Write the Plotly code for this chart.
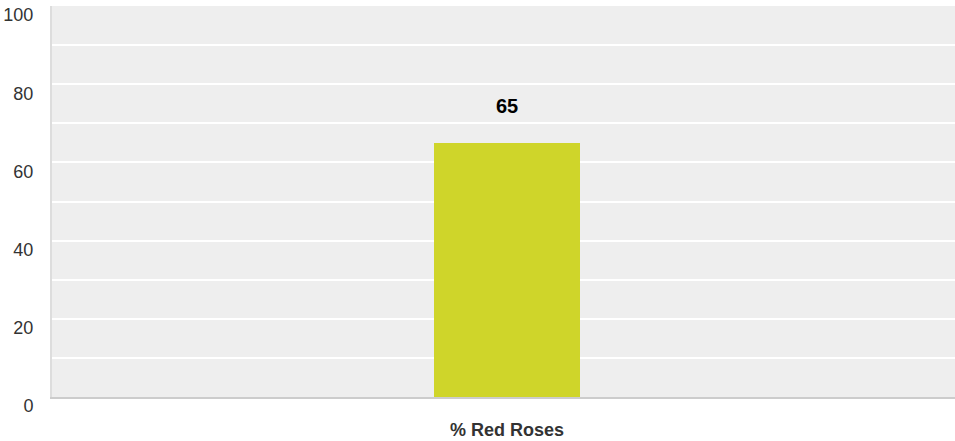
import plotly.graph_objects as go

categories = ["% Red Roses"]
values = [65]
value_labels = ["65"]
y_ticks = [0, 20, 40, 60, 80, 100]

FONT = "Liberation Sans, Arial, sans-serif"

fig = go.Figure()
fig.add_trace(go.Bar(
    x=categories, y=values,
    marker=dict(color="#cfd52a", line=dict(width=0)),
    width=0.162, hoverinfo="skip",
))

for c, v, t in zip(categories, values, value_labels):
    fig.add_annotation(
        x=c, y=v, text="<b>%s</b>" % t, showarrow=False,
        yanchor="middle", yshift=37,
        font=dict(family=FONT, size=20, color="#000000"),
    )

fig.update_layout(
    width=955, height=441,
    margin=dict(l=52, r=0, t=6, b=44, autoexpand=False),
    paper_bgcolor="white", plot_bgcolor="#eeeeee",
    showlegend=False,
    font=dict(family=FONT, color="#333333"),
    bargap=0,
)
fig.update_xaxes(
    range=[-0.504, 0.496],
    showgrid=False, zeroline=False, automargin=False,
    showline=True, linecolor="#cccccc", linewidth=2,
    ticks="", ticklabelstandoff=15,
    tickfont=dict(size=18, color="#333333", family=FONT, weight="bold"),
    fixedrange=True,
)
fig.update_yaxes(
    range=[0, 100],
    tickvals=y_ticks,
    showgrid=True, gridcolor="white", gridwidth=2,
    minor=dict(dtick=10, showgrid=True, gridcolor="white", gridwidth=2),
    zeroline=False, automargin=False,
    showline=True, linecolor="#dddddd", linewidth=2,
    ticks="", ticklabelposition="outside", ticklabelshift=9, ticklabelstandoff=13,
    tickfont=dict(size=18, color="#333333", family=FONT),
    fixedrange=True,
)

fig.write_html(
    "out.html",
    config=dict(displayModeBar=False),
    post_script="document.body.style.margin='0';document.body.style.overflow='hidden';",
)
